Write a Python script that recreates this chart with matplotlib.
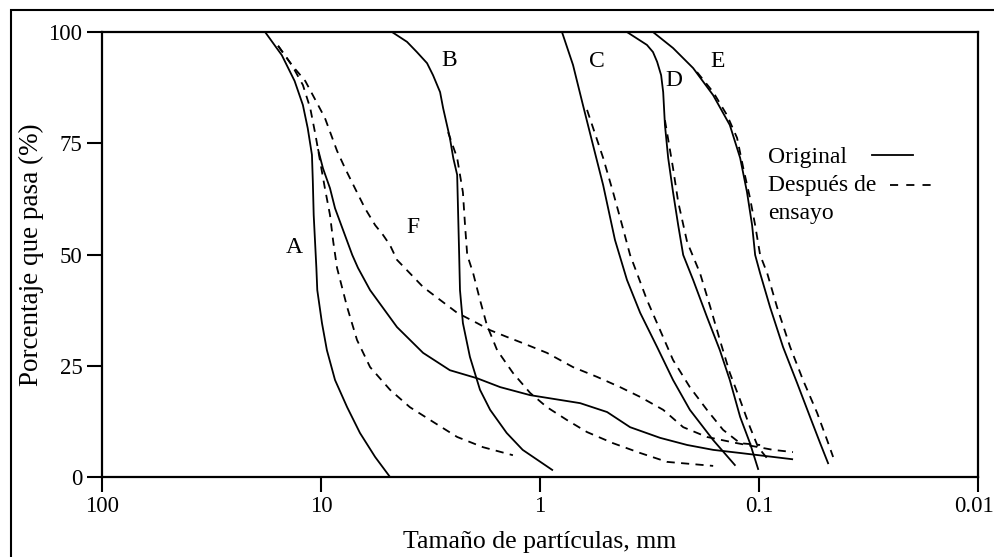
import numpy as np
import matplotlib.pyplot as plt
import matplotlib
from matplotlib.lines import Line2D
from matplotlib.transforms import ScaledTranslation

matplotlib.rcParams.update({'font.family': 'serif',
                            'font.serif': ['Liberation Serif', 'DejaVu Serif'],
                            'font.size': 16})

# Grading curves: particle size (mm) and percent passing
a_orig_x = [18.0, 15.1, 13.2, 12.1, 11.5, 11.0, 10.9, 10.8, 10.5, 10.4, 9.9, 9.4, 8.63,
            7.6, 6.64, 5.66, 4.84]
a_orig_y = [100, 94.8, 89.0, 83.6, 78.4, 72.4, 66.5, 58.9, 47.0, 42.0, 34.6, 28.5, 21.8,
            15.7, 9.9, 4.5, 0]
a_test_x = [15.7, 13.6, 12.1, 11.2, 10.6, 10.1, 9.6, 9.1, 8.8, 8.45, 7.6, 6.85, 5.97,
            4.84, 3.93, 3.08, 2.39, 1.82, 1.33]
a_test_y = [96.9, 92.6, 88.1, 82.9, 76.9, 71.0, 64.9, 58.9, 53.0, 47.0, 38.2, 30.8, 24.7,
            19.6, 15.7, 12.4, 9.0, 6.7, 4.9]

b_orig_x = [4.74, 4.05, 3.65, 3.28, 3.08, 2.86, 2.77, 2.58, 2.49, 2.39, 2.34, 2.32, 2.25,
            2.09, 1.88, 1.69, 1.42, 1.20, 0.88]
b_orig_y = [100, 97.8, 95.5, 93.0, 90.3, 86.5, 82.9, 76.2, 71.7, 67.9, 49.9, 42.0, 34.6,
            27.0, 19.6, 15.1, 9.9, 6.1, 1.6]
b_test_x = [2.63, 2.39, 2.25, 2.20, 2.15, 2.02, 1.88, 1.75, 1.57, 1.33, 1.11, 0.93, 0.753,
            0.61, 0.464, 0.349, 0.263, 0.162]
b_test_y = [77.5, 71.7, 64.0, 56.6, 49.9, 45.8, 39.8, 34.2, 28.5, 23.4, 18.9, 15.7, 12.8,
            10.1, 7.6, 5.4, 3.4, 2.5]

c_orig_x = [0.794, 0.707, 0.637, 0.573, 0.515, 0.455, 0.401, 0.349, 0.292, 0.247, 0.207, 0.162, 0.129]
c_orig_y = [100, 92.6, 83.6, 74.6, 65.6, 53.3, 44.3, 36.9, 29.2, 21.8, 15.1, 8.3, 2.7]
c_test_x = [0.61, 0.515, 0.464, 0.422, 0.388, 0.361, 0.325, 0.283, 0.247, 0.207, 0.173, 0.146, 0.122, 0.0989]
c_test_y = [82.5, 71.7, 64.0, 56.6, 49.9, 45.8, 39.8, 33.0, 26.3, 20.2, 15.1, 10.6, 7.6, 7.2]

d_orig_x = [0.401, 0.325, 0.305, 0.292, 0.280, 0.274, 0.269, 0.260, 0.247, 0.234, 0.222,
            0.200, 0.173, 0.151, 0.136, 0.122, 0.110, 0.101]
d_orig_y = [100, 97.1, 95.5, 93.3, 90.3, 86.5, 79.1, 71.7, 64.0, 56.6, 49.9,
            44.3, 36.0, 28.5, 21.8, 13.5, 7.6, 1.8]
d_test_x = [0.269, 0.247, 0.234, 0.213, 0.186, 0.167, 0.151, 0.136, 0.122, 0.110, 0.101, 0.0891]
d_test_y = [80.2, 69.4, 61.8, 52.8, 45.8, 38.2, 30.8, 23.4, 17.3, 11.2, 6.7, 3.4]

e_orig_x = [0.305, 0.247, 0.200, 0.162, 0.136, 0.122, 0.1135, 0.1076, 0.1042, 0.0989, 0.0891,
            0.0777, 0.0670, 0.0585, 0.0526, 0.0484]
e_orig_y = [100, 96.4, 91.9, 85.8, 79.1, 71.7, 64.0, 56.6, 49.9, 45.8, 38.2,
            29.2, 21.1, 13.5, 7.6, 3.1]
e_test_x = [0.192, 0.162, 0.140, 0.126, 0.118, 0.110, 0.1042, 0.0989, 0.0918, 0.0828, 0.0721,
            0.0630, 0.0543, 0.0489, 0.0459]
e_test_y = [91.0, 86.5, 81.3, 76.2, 69.4, 62.7, 56.6, 49.9, 45.8, 38.2, 29.2,
            21.8, 14.4, 8.3, 4.5]

f_orig_x = [10.3, 9.8, 9.1, 8.63, 8.0, 7.2, 6.78, 5.97, 4.5, 3.42, 2.58, 1.94, 1.52, 1.11, 0.656,
            0.494, 0.388, 0.283, 0.213, 0.162, 0.122, 0.0706]
f_orig_y = [73.5, 69.4, 64.9, 60.4, 56.0, 49.9, 47.0, 42.0, 33.7, 27.9, 24.0, 22.2, 20.2, 18.4, 16.6,
            14.6, 11.2, 8.8, 7.2, 6.1, 5.4, 4.0]
f_test_x = [15.7, 13.6, 11.8, 10.6, 9.6, 8.45, 7.77, 7.0, 6.3, 5.66, 5.21, 4.84, 4.50, 3.93,
            3.42, 2.86, 2.39, 1.94, 1.69, 1.42, 1.20, 0.93, 0.707, 0.549, 0.431, 0.349,
            0.274, 0.222, 0.173, 0.126, 0.0863, 0.070]
f_test_y = [96.9, 92.6, 89.0, 84.7, 80.7, 73.3, 69.4, 64.9, 60.4, 56.6, 54.4, 52.1, 48.8, 45.8,
            42.7, 39.8, 36.9, 34.6, 33.0, 31.5, 30.1, 27.9, 24.7, 22.5, 20.2, 18.0,
            15.1, 11.2, 9.0, 7.6, 6.1, 5.6]

# Curve labels
labels = ['A', 'B', 'C', 'D', 'E', 'F']
label_x = [13.2, 2.61, 0.549, 0.244, 0.154, 3.80]
label_y = [51.5, 93.7, 93.3, 89.2, 93.3, 56.1]

xticks = [100, 10, 1, 0.1, 0.01]
xticklabels = ['100', '10', '1', '0.1', '0.01']
yticks = [0, 25, 50, 75, 100]

fig = plt.figure(figsize=(9.95, 5.57), dpi=100)
ax = fig.add_axes([0.1025, 0.1436, 0.8805, 0.7989])

solid = dict(color='black', lw=1.3, solid_joinstyle='round')
dashed = dict(color='black', lw=1.3, ls=(0, (4.5, 3.5)))

ax.plot(a_orig_x, a_orig_y, **solid)
ax.plot(a_test_x, a_test_y, **dashed)
ax.plot(b_orig_x, b_orig_y, **solid)
ax.plot(b_test_x, b_test_y, **dashed)
ax.plot(c_orig_x, c_orig_y, **solid)
ax.plot(c_test_x, c_test_y, **dashed)
ax.plot(d_orig_x, d_orig_y, **solid)
ax.plot(d_test_x, d_test_y, **dashed)
ax.plot(e_orig_x, e_orig_y, **solid)
ax.plot(e_test_x, e_test_y, **dashed)
ax.plot(f_orig_x, f_orig_y, **solid)
ax.plot(f_test_x, f_test_y, **dashed)

for lab, lx, ly in zip(labels, label_x, label_y):
    ax.text(lx, ly, lab, ha='center', va='center', fontsize=17)

ax.set_xscale('log')
ax.set_xlim(100, 0.01)
ax.set_ylim(0, 100)
ax.set_xticks(xticks)
ax.set_xticklabels(xticklabels)
ax.set_yticks(yticks)
ax.minorticks_off()
ax.tick_params(direction='out', length=11, width=1.5, labelsize=16.5, pad=3)
for sp in ax.spines.values():
    sp.set_linewidth(1.6)

# keep the last tick label inside the picture
last = ax.get_xticklabels()[-1]
last.set_transform(last.get_transform() + ScaledTranslation(-4 / 100, 0, fig.dpi_scale_trans))

ax.set_xlabel('Tamaño de partículas, mm', fontsize=18.5, labelpad=10)
ax.set_ylabel('Porcentaje que pasa (%)', fontsize=19.5, labelpad=3)

# Legend drawn by hand
ax.text(0.760, 0.719, 'Original', transform=ax.transAxes, va='center', fontsize=17)
ax.text(0.760, 0.656, 'Después de', transform=ax.transAxes, va='center', fontsize=17)
ax.text(0.760, 0.593, 'ensayo', transform=ax.transAxes, va='center', fontsize=17)
ax.add_line(Line2D([0.879, 0.926], [0.724, 0.724], transform=ax.transAxes, color='black', lw=1.3))
ax.add_line(Line2D([0.900, 0.951], [0.656, 0.656], transform=ax.transAxes,
                   color='black', lw=1.3, ls=(0, (4.5, 4.5))))

# Outer frame
fig.add_artist(plt.Rectangle((11 / 995, -0.1), 1.2, 1.1 - 10 / 557, transform=fig.transFigure,
                             fill=False, ec='black', lw=1.5))

fig.savefig('out.png', dpi=100)
